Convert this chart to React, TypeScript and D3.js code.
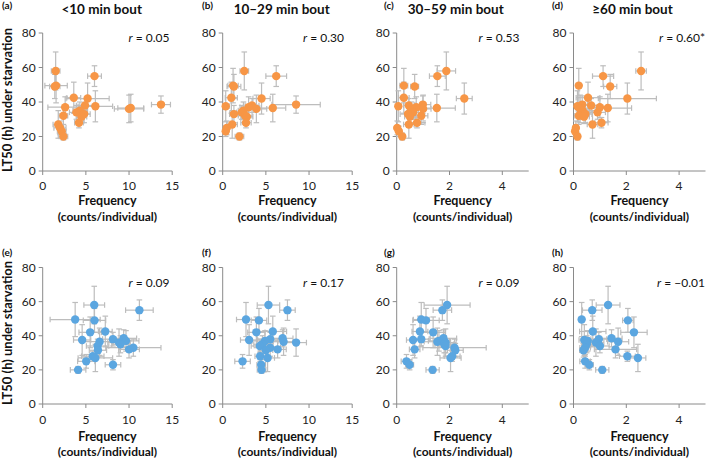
import React from "react";
import * as d3 from "d3";

// ---- Data ----
// LT50 (h) under starvation for each strain (shared by all panels), with error
const strainLT50 = [58, 55, 49.5, 49, 42.5, 42, 38.5, 38, 37.5, 37, 36.5, 36, 35, 34, 33, 32, 31.5, 28, 27, 25, 23, 20];
const strainLT50Err = [11, 6, 10, 7, 9, 9, 5, 4, 9, 6, 8, 8, 5, 4, 5, 5, 4, 3, 8, 4, 3, 2];

// Frequency (counts/individual) per strain, per panel
const freqA = [1.5, 6.0, 1.55, 1.4, 3.6, 5.2, 13.7, 4.9, 6.1, 2.6, 10.2, 10.0, 4.3, 3.9, 4.8, 2.4, 4.5, 4.2, 1.8, 2.0, 2.2, 2.4];
const freqAErr = [0.5, 0.8, 1.3, 0.6, 0.8, 2.5, 1.1, 1.0, 2.0, 2.0, 1.5, 1.7, 0.8, 0.8, 0.7, 0.5, 0.6, 0.5, 0.6, 0.7, 0.5, 0.5];
const freqB = [2.5, 6.2, 1.2, 1.3, 1.0, 4.5, 8.5, 3.4, 0.35, 3.0, 5.8, 3.9, 2.4, 2.2, 1.3, 2.6, 2.8, 2.7, 1.1, 0.47, 0.35, 1.94];
const freqBErr = [0.5, 1.2, 0.6, 0.8, 0.7, 1.0, 2.8, 0.8, 0.4, 1.0, 1.5, 1.2, 0.6, 0.6, 0.5, 0.8, 0.7, 0.6, 0.6, 0.3, 0.3, 0.5];
const freqC = [1.88, 1.54, 0.27, 0.68, 0.27, 2.56, 0.99, 0.46, 0.06, 0.74, 1.52, 1.0, 0.55, 0.62, 0.43, 0.93, 0.5, 0.77, 0.46, 0.02, 0.08, 0.21];
const freqCErr = [0.35, 0.3, 0.15, 0.15, 0.2, 0.3, 0.3, 0.2, 0.1, 0.3, 0.7, 0.3, 0.15, 0.2, 0.3, 0.25, 0.2, 0.3, 0.2, 0.1, 0.1, 0.1];
const freqD = [2.56, 1.12, 0.2, 1.39, 0.55, 2.04, 0.33, 0.67, 0.15, 1.0, 1.3, 0.25, 0.35, 0.91, 0.45, 0.2, 0.4, 1.06, 0.72, 0.09, 0.06, 0.15];
const freqDErr = [0.2, 0.4, 0.1, 0.25, 0.45, 1.1, 0.2, 0.3, 0.1, 0.4, 0.9, 0.15, 0.2, 0.3, 0.25, 0.15, 0.2, 0.25, 0.2, 0.05, 0.05, 0.05];
const freqE = [5.97, 11.2, 3.76, 6.0, 7.25, 5.5, 9.38, 8.14, 4.57, 9.65, 6.59, 8.84, 9.0, 6.36, 10.5, 10.0, 6.4, 5.8, 6.1, 5.04, 8.14, 4.1];
const freqEErr = [1.2, 1.6, 2.9, 1.3, 0.8, 1.3, 1.5, 1.2, 1.0, 1.5, 2.0, 1.3, 1.0, 1.3, 3.2, 1.2, 1.0, 1.3, 2.0, 1.0, 0.9, 0.9];
const freqF = [5.3, 7.5, 2.7, 4.2, 5.8, 3.9, 6.94, 5.5, 3.06, 4.9, 7.05, 8.5, 4.6, 4.3, 5.5, 6.36, 5.0, 4.34, 5.2, 2.3, 4.46, 4.5];
const freqFErr = [1.3, 0.9, 1.1, 0.9, 1.6, 1.0, 1.2, 1.5, 1.0, 1.5, 1.2, 1.2, 1.0, 1.0, 1.2, 1.0, 0.8, 0.6, 0.8, 0.9, 0.5, 0.5];
const freqG = [1.91, 1.73, 0.93, 1.11, 0.88, 1.38, 1.77, 0.93, 0.62, 1.6, 1.54, 1.85, 1.8, 1.85, 2.19, 0.68, 2.22, 2.1, 2.04, 0.37, 0.49, 1.36];
const freqGErr = [0.87, 0.35, 0.3, 0.5, 0.3, 0.45, 0.5, 0.3, 0.25, 0.4, 0.5, 0.4, 0.35, 0.3, 1.2, 0.2, 0.3, 0.3, 0.4, 0.2, 0.15, 0.25];
const freqH = [1.31, 0.71, 0.31, 2.06, 0.73, 2.29, 1.44, 0.96, 0.41, 0.54, 1.69, 0.85, 0.5, 1.0, 0.44, 1.59, 0.38, 2.04, 2.44, 0.44, 0.6, 1.09];
const freqHErr = [0.45, 0.37, 0.1, 0.2, 0.5, 0.5, 0.4, 0.3, 0.2, 0.25, 0.4, 0.3, 0.2, 0.35, 0.2, 0.8, 0.15, 0.3, 0.3, 0.2, 0.15, 0.25];

const boutClasses = ["<10 min bout", "10–29 min bout", "30–59 min bout", "≥60 min bout"];
const panelTags = ["(a)", "(b)", "(c)", "(d)", "(e)", "(f)", "(g)", "(h)"];
const rValues = ["0.05", "0.30", "0.53", "0.60*", "0.09", "0.17", "0.09", "−0.01"];
const yTicks = [0, 20, 40, 60, 80];
const xTicksWide = [0, 5, 10, 15];
const xTicksNarrow = [0, 2, 4];
const xMaxWide = 15;
const xMaxNarrow = 5;
const yMax = 80;

const freqSeries = [freqA, freqB, freqC, freqD, freqE, freqF, freqG, freqH];
const freqErrSeries = [freqAErr, freqBErr, freqCErr, freqDErr, freqEErr, freqFErr, freqGErr, freqHErr];

// ---- Layout / style ----
const W = 709;
const H = 460;
const FONT = "Lato, 'Open Sans', sans-serif";
const ORANGE = "#F79646";
const BLUE = "#5BA6E0";
const ERR = "#BDBDBD";
const AXIS = "#8A8A8A";
const colLeft = [42.7, 222.7, 396.7, 573.5];
const colWidth = [129.5, 129.5, 132, 132];
const rowTop = [33, 267.5];
const rowBottom = [171, 404];
const tagX = [2, 202, 384, 552];
const tagY = [9, 256];
const rRight = [169.5, 344, 519.5, 705];
const rY = [42, 287];
const tickLabelY = [190, 424];
const freqY = [205, 441];
const countsY = [221, 456];
const yTitleCenter = [100, 333];
const CAP = 2.8;

function Panel({ idx }: { idx: number }) {
  const row = Math.floor(idx / 4);
  const col = idx % 4;
  const wide = col < 2;
  const left = colLeft[col];
  const right = left + colWidth[col];
  const x = d3.scaleLinear().domain([0, wide ? xMaxWide : xMaxNarrow]).range([left, right]);
  const y = d3.scaleLinear().domain([0, yMax]).range([rowBottom[row], rowTop[row]]);
  const xs = freqSeries[idx];
  const xe = freqErrSeries[idx];
  const color = row === 0 ? ORANGE : BLUE;
  const xTicks = wide ? xTicksWide : xTicksNarrow;
  const cx = (left + right) / 2;

  return (
    <g>
      {row === 0 && (
        <text x={left + 59} y={14} textAnchor="middle" fontWeight="bold" fontSize={13.5} fill="#111">
          {boutClasses[col]}
        </text>
      )}
      <text x={tagX[col]} y={tagY[row]} fontWeight="bold" fontSize={10} fill="#111">
        {panelTags[idx]}
      </text>
      {/* axes */}
      <line x1={left} x2={left} y1={y(yMax)} y2={y(0)} stroke={AXIS} strokeWidth={1} />
      <line x1={left} x2={right} y1={y(0)} y2={y(0)} stroke={AXIS} strokeWidth={1} />
      {yTicks.map((t) => (
        <g key={"y" + t}>
          <line x1={left - 4} x2={left} y1={y(t)} y2={y(t)} stroke={AXIS} />
          <text x={left - 7} y={y(t)} dy="0.35em" textAnchor="end" fontSize={12} fill="#222">
            {t}
          </text>
        </g>
      ))}
      {xTicks.map((t) => (
        <g key={"x" + t}>
          <line x1={x(t)} x2={x(t)} y1={y(0)} y2={y(0) + 4} stroke={AXIS} />
          <text x={x(t)} y={tickLabelY[row]} textAnchor="middle" fontSize={12} fill="#222">
            {t}
          </text>
        </g>
      ))}
      {/* error bars */}
      {xs.map((v, i) => {
        const px = x(v);
        const py = y(strainLT50[i]);
        const x0 = x(Math.max(0, v - xe[i]));
        const x1 = x(v + xe[i]);
        const y0 = y(strainLT50[i] - strainLT50Err[i]);
        const y1 = y(strainLT50[i] + strainLT50Err[i]);
        return (
          <g key={"e" + i} stroke={ERR} strokeWidth={1.2}>
            <line x1={x0} x2={x1} y1={py} y2={py} />
            {v - xe[i] > 0 && <line x1={x0} x2={x0} y1={py - CAP} y2={py + CAP} />}
            <line x1={x1} x2={x1} y1={py - CAP} y2={py + CAP} />
            <line x1={px} x2={px} y1={y0} y2={y1} />
            <line x1={px - CAP} x2={px + CAP} y1={y0} y2={y0} />
            <line x1={px - CAP} x2={px + CAP} y1={y1} y2={y1} />
          </g>
        );
      })}
      {xs.map((v, i) => (
        <circle key={"p" + i} cx={x(v)} cy={y(strainLT50[i])} r={4.2} fill={color} />
      ))}
      <text x={rRight[col]} y={rY[row]} textAnchor="end" fontSize={12} fill="#111">
        <tspan fontStyle="italic">r</tspan>
        {" = " + rValues[idx]}
      </text>
      <text x={cx} y={freqY[row]} textAnchor="middle" fontWeight="bold" fontSize={12.5} fill="#111">
        Frequency
      </text>
      <text x={cx} y={countsY[row]} textAnchor="middle" fontWeight="bold" fontSize={12} fill="#111">
        (counts/individual)
      </text>
    </g>
  );
}

export default function App() {
  return (
    <svg
      width={W}
      height={H}
      viewBox={`0 0 ${W} ${H}`}
      style={{ position: "absolute", left: 0, top: 0, background: "#fff" }}
      fontFamily={FONT}
    >
      <rect width={W} height={H} fill="#fff" />
      {[0, 1].map((r) => (
        <text
          key={"yt" + r}
          transform={`translate(12, ${yTitleCenter[r]}) rotate(-90)`}
          textAnchor="middle"
          fontWeight="bold"
          fontSize={13}
          fill="#111"
        >
          LT50 (h) under starvation
        </text>
      ))}
      {d3.range(8).map((i) => (
        <Panel key={i} idx={i} />
      ))}
    </svg>
  );
}
